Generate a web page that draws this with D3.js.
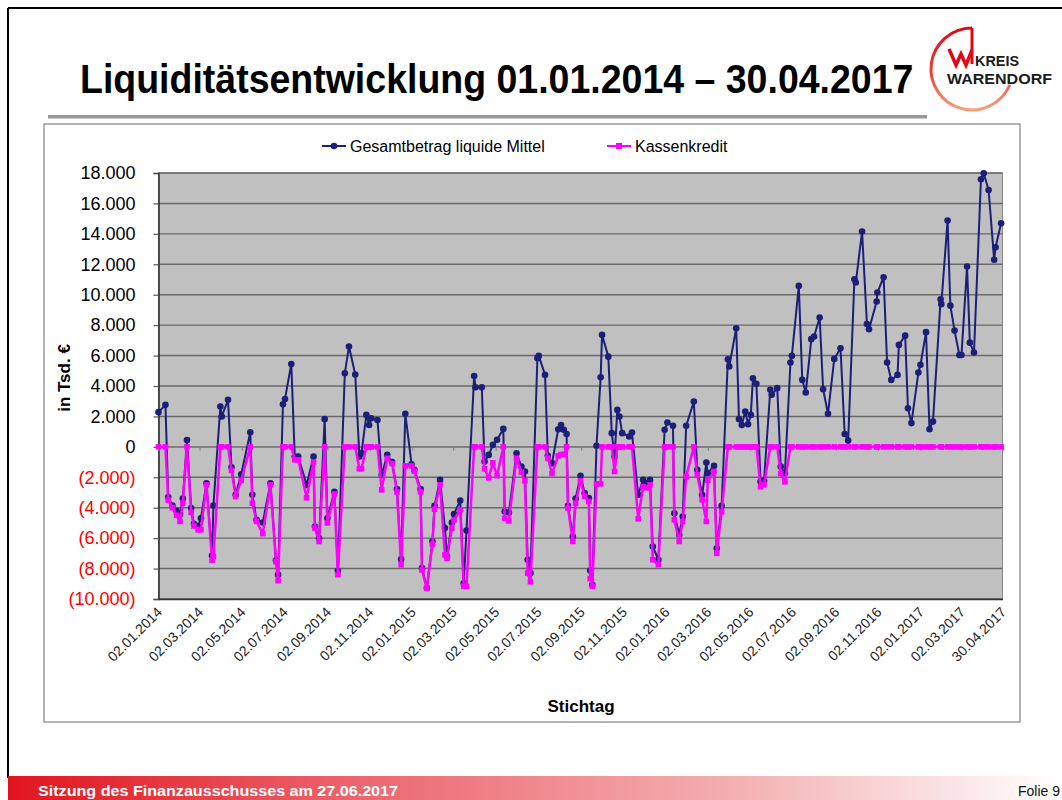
<!DOCTYPE html>
<html><head><meta charset="utf-8">
<script src="https://cdn.jsdelivr.net/npm/d3@7"></script>
<style>body{margin:0;background:#fff} svg{display:block;font-family:Arial,"Liberation Sans",sans-serif}</style>
</head><body><svg id="c" width="1062" height="800"></svg>
<script>
const stichtag = [
"02.01.2014","12.01.2014","16.01.2014","22.01.2014","28.01.2014","02.02.2014","06.02.2014","12.02.2014","18.02.2014","22.02.2014","28.02.2014","04.03.2014","12.03.2014","20.03.2014","22.03.2014","01.04.2014","03.04.2014","12.04.2014","17.04.2014","23.04.2014","01.05.2014","14.05.2014","17.05.2014","23.05.2014","01.06.2014","12.06.2014","20.06.2014","23.06.2014","30.06.2014","03.07.2014","12.07.2014","17.07.2014","22.07.2014","03.08.2014","13.08.2014","15.08.2014","21.08.2014","29.08.2014","02.09.2014","12.09.2014","17.09.2014","27.09.2014","03.10.2014","12.10.2014","18.10.2014","21.10.2014","28.10.2014","01.11.2014","04.11.2014","13.11.2014","19.11.2014","27.11.2014","04.12.2014","11.12.2014","17.12.2014","23.12.2014",
"01.01.2015","05.01.2015","14.01.2015","16.01.2015","23.01.2015","31.01.2015","03.02.2015","11.02.2015","18.02.2015","21.02.2015","28.02.2015","03.03.2015","12.03.2015","17.03.2015","21.03.2015","01.04.2015","03.04.2015","12.04.2015","16.04.2015","22.04.2015","28.04.2015","04.05.2015","13.05.2015","15.05.2015","21.05.2015","01.06.2015","08.06.2015","13.06.2015","17.06.2015","21.06.2015","01.07.2015","03.07.2015","12.07.2015","16.07.2015","22.07.2015","31.07.2015","04.08.2015","08.08.2015","12.08.2015","14.08.2015","21.08.2015","25.08.2015","01.09.2015","07.09.2015","13.09.2015","15.09.2015","18.09.2015","24.09.2015","30.09.2015","02.10.2015","11.10.2015","16.10.2015","20.10.2015","24.10.2015","27.10.2015","31.10.2015","10.11.2015","14.11.2015","23.11.2015","30.11.2015","05.12.2015","10.12.2015","14.12.2015","22.12.2015","31.12.2015",
"04.01.2016","12.01.2016","14.01.2016","21.01.2016","26.01.2016","31.01.2016","11.02.2016","16.02.2016","23.02.2016","29.02.2016","02.03.2016","11.03.2016","15.03.2016","22.03.2016","31.03.2016","02.04.2016","12.04.2016","16.04.2016","20.04.2016","25.04.2016","29.04.2016","03.05.2016","06.05.2016","11.05.2016","17.05.2016","22.05.2016","31.05.2016","02.06.2016","10.06.2016","15.06.2016","21.06.2016","29.06.2016","01.07.2016","11.07.2016","16.07.2016","21.07.2016","29.07.2016","02.08.2016","10.08.2016","15.08.2016","22.08.2016","31.08.2016","09.09.2016","15.09.2016","20.09.2016","29.09.2016","01.10.2016","10.10.2016","17.10.2016","20.10.2016","31.10.2016","01.11.2016","10.11.2016","15.11.2016","21.11.2016","30.11.2016","02.12.2016","11.12.2016","15.12.2016","20.12.2016","30.12.2016",
"02.01.2017","10.01.2017","15.01.2017","20.01.2017","31.01.2017","01.02.2017","10.02.2017","14.02.2017","20.02.2017","27.02.2017","02.03.2017","10.03.2017","14.03.2017","20.03.2017","30.03.2017","03.04.2017","10.04.2017","18.04.2017","20.04.2017","28.04.2017"
];

const liquideMittel = [
2280,2760,-3300,-3850,-4200,-4450,-3400,450,-4030,-5060,-5200,-4700,-2400,-7150,-3850,2650,2000,3090,-1340,-3150,-1800,960,-3150,-4800,-4970,-2390,-7450,-8400,2800,3150,5450,-640,-640,-2500,-640,-5230,-6000,1820,-4700,-2950,-8150,4840,6600,4750,-640,-400,2100,1440,1880,1770,-1840,-530,-1000,-2780,-7380,2170,
-1140,-1510,-2780,-7970,-9280,-6200,-3880,-2170,-5340,-7200,-4970,-4420,-3530,-8960,-5500,4660,3920,3920,-960,-530,130,460,1180,-4250,-4310,-420,-1290,-1620,-7420,-8300,5830,5980,4730,-590,-1070,1160,1440,1120,850,-3880,-5890,-3400,-1900,-3040,-3370,-8130,-9070,70,4580,7360,5930,900,-640,2430,2000,900,680,940,-3150,-2170,-2400,-2170,-6550,-7420,1120,
1600,1380,-4360,-5780,-4580,1380,2980,-1510,-3150,-1030,-1730,-1250,-6660,-3880,5760,5280,7800,1820,1440,2320,1490,2100,4510,4140,-2280,-2210,3750,3420,3860,-1290,-1730,5540,5980,10580,4400,3570,7080,7250,8500,3790,2170,5780,6480,850,410,11020,10800,14150,8080,7730,9550,10140,11150,5540,4400,4730,6700,7310,2540,1560,4880,
5390,7540,1160,1660,9700,9380,14870,9280,7640,6040,6040,11850,6850,6200,17590,17980,16880,12290,13120,14700
];

const kassenkredit = [
0,0,-3500,-4000,-4500,-4900,-3700,0,-4300,-5200,-5450,-5450,-2500,-7450,-7200,0,0,0,-1550,-3270,-2200,0,-3700,-4900,-5700,-2500,-7550,-8800,0,0,0,-850,-850,-3350,-1000,-5340,-6220,0,-5000,-3100,-8400,0,0,0,-1440,-1440,0,0,0,0,-2830,-750,-1100,-2960,-7750,-1250,
-1250,-1600,-2960,-8100,-9300,-6400,-4100,-2500,-7100,-7340,-5340,-4800,-4140,-9170,-9170,0,0,0,-1440,-2040,-1050,-1900,0,-4700,-4870,-750,-1660,-2230,-8300,-8870,0,0,0,-750,-1750,-590,-500,-500,0,-4030,-6220,-3700,-2230,-3260,-3590,-8660,-9170,-2430,-2430,0,0,0,-1620,0,0,0,0,0,-4730,-2630,-2700,-2500,-7420,-7750,0,
0,0,-4800,-6220,-4910,-1950,0,-1840,-3480,-4900,-2200,-1620,-7000,-4270,0,0,0,0,0,0,0,0,0,0,-2630,-2500,0,0,0,-1750,-2300,0,0,0,0,0,0,0,0,0,0,0,0,0,0,0,0,0,0,0,0,0,0,0,0,0,0,0,0,0,0,
0,0,0,0,0,0,0,0,0,0,0,0,0,0,0,0,0,0,0,0
];

const seriesNames = ["Gesamtbetrag liquide Mittel", "Kassenkredit"];
const yTicks = [18000,16000,14000,12000,10000,8000,6000,4000,2000,0,-2000,-4000,-6000,-8000,-10000];
const xTickLabels = ["02.01.2014","02.03.2014","02.05.2014","02.07.2014","02.09.2014","02.11.2014","02.01.2015","02.03.2015","02.05.2015","02.07.2015","02.09.2015","02.11.2015","02.01.2016","02.03.2016","02.05.2016","02.07.2016","02.09.2016","02.11.2016","02.01.2017","02.03.2017","30.04.2017"];
const titleText = "Liquiditätsentwicklung 01.01.2014 – 30.04.2017";
const footerText = "Sitzung des Finanzausschusses am 27.06.2017";
const pageText = "Folie 9";
const yAxisTitle = "in Tsd. €";
const xAxisTitle = "Stichtag";

if (stichtag.length !== liquideMittel.length || stichtag.length !== kassenkredit.length) {
  console.error("length mismatch", stichtag.length, liquideMittel.length, kassenkredit.length);
}

const parse = d3.timeParse("%d.%m.%Y");
const data = stichtag.map((s, i) => ({ date: parse(s), liquide: liquideMittel[i], kredit: kassenkredit[i] }));

const svg = d3.select("#c");
const defs = svg.append("defs");

// ---------- slide frame ----------
svg.append("line").attr("x1", 8).attr("y1", 8).attr("x2", 1062).attr("y2", 8).attr("stroke", "#000").attr("stroke-width", 2);
svg.append("line").attr("x1", 8).attr("y1", 8).attr("x2", 8).attr("y2", 778).attr("stroke", "#000").attr("stroke-width", 2);

// title (font sized to its natural width, stretched vertically to the slide's glyph height)
svg.append("text").attr("transform", "translate(80,93) scale(1,1.06)").attr("font-size", 37.5).attr("font-weight", "bold")
  .attr("fill", "#000").text(titleText);
// rule under title
svg.append("rect").attr("x", 48).attr("y", 115).attr("width", 879).attr("height", 3.5).attr("fill", "#999");

// logo
const lg = defs.append("linearGradient").attr("id", "logoGrad").attr("x1", 0).attr("y1", 0).attr("x2", 0).attr("y2", 1);
lg.append("stop").attr("offset", "0%").attr("stop-color", "#e30613");
lg.append("stop").attr("offset", "55%").attr("stop-color", "#e8433a");
lg.append("stop").attr("offset", "100%").attr("stop-color", "#f3a17c");
const cx = 972, cy = 69, r = 41, a = 23 * Math.PI / 180;
svg.append("path")
  .attr("d", `M ${cx} ${cy - r} A ${r} ${r} 0 1 0 ${cx + r * Math.cos(a)} ${cy + r * Math.sin(a)}`)
  .attr("fill", "none").attr("stroke", "url(#logoGrad)").attr("stroke-width", 3);
svg.append("line").attr("x1", cx).attr("y1", cy - r).attr("x2", cx).attr("y2", 64).attr("stroke", "#e30613").attr("stroke-width", 3);
svg.append("polyline").attr("points", "949,49 956,65 961,54 966,65 972,50")
  .attr("fill", "none").attr("stroke", "#e30613").attr("stroke-width", 3.5).attr("stroke-linejoin", "miter");
svg.append("text").attr("x", 975).attr("y", 66).attr("font-size", 15).attr("font-weight", "bold")
  .attr("textLength", 44).attr("lengthAdjust", "spacingAndGlyphs").attr("fill", "#1a1a1a").text("KREIS");
svg.append("text").attr("x", 947).attr("y", 84).attr("font-size", 15).attr("font-weight", "bold")
  .attr("textLength", 105).attr("lengthAdjust", "spacingAndGlyphs").attr("fill", "#1a1a1a").text("WARENDORF");

// footer bar
const fg = defs.append("linearGradient").attr("id", "footGrad").attr("x1", 0).attr("y1", 0).attr("x2", 1).attr("y2", 0);
fg.append("stop").attr("offset", "0%").attr("stop-color", "#e1141e");
fg.append("stop").attr("offset", "35%").attr("stop-color", "#ec6a72");
fg.append("stop").attr("offset", "70%").attr("stop-color", "#f4b2b4");
fg.append("stop").attr("offset", "100%").attr("stop-color", "#ffffff");
svg.append("rect").attr("x", 8).attr("y", 776).attr("width", 1054).attr("height", 24).attr("fill", "url(#footGrad)");
svg.append("text").attr("x", 38).attr("y", 796).attr("font-size", 14.5).attr("font-weight", "bold").attr("fill", "#fff")
  .attr("textLength", 360).attr("lengthAdjust", "spacingAndGlyphs").text(footerText);
svg.append("text").attr("x", 1060).attr("y", 796).attr("font-size", 14).attr("text-anchor", "end").attr("fill", "#111").text(pageText);

// ---------- chart ----------
svg.append("rect").attr("x", 44).attr("y", 124).attr("width", 976).attr("height", 598)
  .attr("fill", "#fff").attr("stroke", "#9c9c9c").attr("stroke-width", 1.5);

const x = d3.scaleTime().domain([parse("02.01.2014"), parse("30.04.2017")]).range([158.5, 1002.5]);
const y = d3.scaleLinear().domain([-10000, 18000]).range([599, 173]);

const plotL = x.range()[0], plotR = x.range()[1], plotT = y(18000), plotB = y(-10000);
svg.append("rect").attr("x", plotL).attr("y", plotT).attr("width", plotR - plotL).attr("height", plotB - plotT)
  .attr("fill", "#c0c0c0").attr("stroke", "#8a8a8a").attr("stroke-width", 1);

// gridlines
svg.append("g").selectAll("line").data(yTicks).join("line")
  .attr("x1", plotL).attr("x2", plotR).attr("y1", d => y(d)).attr("y2", d => y(d))
  .attr("stroke", "#6a6a6a").attr("stroke-width", 1.4);

// y axis
const de = d3.formatLocale({ decimal: ",", thousands: ".", grouping: [3], currency: ["", "€"] });
const fmt = de.format(",.0f");
const yAxis = svg.append("g").attr("transform", `translate(${plotL},0)`)
  .call(d3.axisLeft(y).tickValues(yTicks).tickSize(5).tickPadding(15).tickFormat(v => v < 0 ? "(" + fmt(-v) + ")" : fmt(v)));
yAxis.select(".domain").attr("stroke", "#333").attr("stroke-width", 1.6);
yAxis.selectAll(".tick line").attr("stroke", "#555").attr("stroke-width", 1.2);
yAxis.selectAll(".tick text").attr("font-size", 18).attr("font-family", "Arial, 'Liberation Sans', sans-serif")
  .attr("fill", d => d < 0 ? "#ff0000" : "#000").attr("dx", -3);

// bottom axis (labels)
const xTickDates = xTickLabels.map(parse);
const xAxis = svg.append("g").attr("transform", `translate(0,${plotB})`)
  .call(d3.axisBottom(x).tickValues(xTickDates).tickSize(0).tickFormat(d3.timeFormat("%d.%m.%Y")));
xAxis.select(".domain").attr("stroke", "#333").attr("stroke-width", 1.6);
xAxis.selectAll(".tick text").attr("font-size", 14).attr("font-family", "Arial, 'Liberation Sans', sans-serif")
  .attr("fill", "#222").attr("text-anchor", "end").attr("x", 0).attr("y", 0).attr("dy", 0)
  .attr("transform", "translate(4,14) rotate(-45)");

// zero axis with small tick marks
const zAxis = svg.append("g").attr("transform", `translate(0,${y(0)})`)
  .call(d3.axisBottom(x).tickValues(xTickDates).tickSize(4).tickFormat(""));
zAxis.select(".domain").attr("stroke", "#808080").attr("stroke-width", 1);
zAxis.selectAll(".tick line").attr("stroke", "#808080");

// series 1: Gesamtbetrag liquide Mittel
const navy = "#1b1f78", magenta = "#ff00ff";
const line1 = d3.line().x(d => x(d.date)).y(d => y(d.liquide));
svg.append("path").datum(data).attr("d", line1).attr("fill", "none").attr("stroke", navy).attr("stroke-width", 2).attr("stroke-linejoin", "round");
svg.append("g").selectAll("circle").data(data).join("circle")
  .attr("cx", d => x(d.date)).attr("cy", d => y(d.liquide)).attr("r", 3.3).attr("fill", navy);

// series 2: Kassenkredit
const line2 = d3.line().x(d => x(d.date)).y(d => y(d.kredit));
svg.append("path").datum(data).attr("d", line2).attr("fill", "none").attr("stroke", magenta).attr("stroke-width", 2.5).attr("stroke-linejoin", "round");
svg.append("g").selectAll("rect").data(data).join("rect")
  .attr("x", d => x(d.date) - 2.8).attr("y", d => y(d.kredit) - 2.8).attr("width", 5.6).attr("height", 5.6).attr("fill", magenta);

// legend
const leg = svg.append("g");
const legItems = [
  { name: seriesNames[0], x: 322, color: navy, shape: "circle" },
  { name: seriesNames[1], x: 607, color: magenta, shape: "square" }
];
legItems.forEach(it => {
  leg.append("line").attr("x1", it.x).attr("x2", it.x + 24).attr("y1", 146).attr("y2", 146).attr("stroke", it.color).attr("stroke-width", 2);
  if (it.shape === "circle") leg.append("circle").attr("cx", it.x + 12).attr("cy", 146).attr("r", 3.3).attr("fill", it.color);
  else leg.append("rect").attr("x", it.x + 9).attr("y", 143).attr("width", 6).attr("height", 6).attr("fill", it.color);
  leg.append("text").attr("x", it.x + 28).attr("y", 151.5).attr("font-size", 16).attr("fill", "#000").text(it.name);
});

// axis titles
svg.append("text").attr("transform", "translate(70,378) rotate(-90)").attr("text-anchor", "middle")
  .attr("font-size", 17).attr("font-weight", "bold").attr("fill", "#000").text(yAxisTitle);
svg.append("text").attr("x", 581).attr("y", 712).attr("text-anchor", "middle")
  .attr("font-size", 17).attr("font-weight", "bold").attr("fill", "#000").text(xAxisTitle);
</script></body></html>
